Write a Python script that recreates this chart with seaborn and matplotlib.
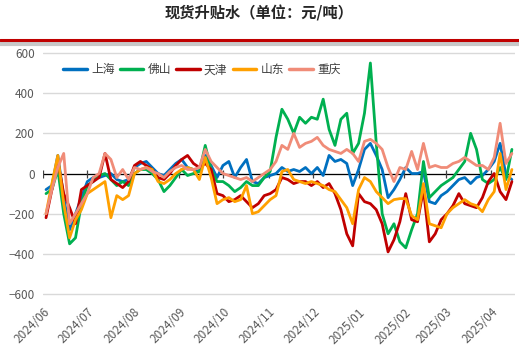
import numpy as np
import pandas as pd
import seaborn as sns
import matplotlib.pyplot as plt
import matplotlib.dates as mdates
from matplotlib.lines import Line2D

# data (one point every 4 days)
dates = pd.date_range('2024-06-03', periods=80, freq='4D')

shanghai = [-80, -60, 90, -120, -280, -200, -120, -40, -20, -20,
            -10, 0, -30, -40, -30, 30, 50, 60, 30, 0,
            -10, 20, 50, 70, 30, 20, 10, 90, 40, -20,
            40, 60, -20, 30, 70, -40, -50, -20, -10, 0,
            30, 10, 20, 10, 30, 0, 30, -10, 90, 60,
            70, 50, -60, 20, 120, 150, 90, 20, -120, -80,
            -30, 30, 0, 0, 10, -140, -150, -110, -90, -60,
            -30, -20, -50, -20, -10, 20, 60, 150, -10, -30]
foshan = [-100, -80, 20, -200, -350, -320, -150, -60, -40, -10,
          0, -30, -60, -40, -60, 0, 20, 20, 0, -30,
          -90, -60, -20, 20, -10, 0, 10, 140, 20, -40,
          -40, -60, -90, -70, -40, -60, -60, -20, 10, 180,
          320, 270, 200, 280, 250, 280, 270, 370, 220, 140,
          270, 300, 100, 150, 300, 550, 150, -200, -300, -250,
          -340, -370, -280, -200, 60, -120, -90, -60, -40, -20,
          20, 60, 200, 120, -30, -50, -30, 30, -30, 120]
tianjin = [-220, -80, 60, -100, -170, -250, -80, -60, -40, -20,
           100, -30, -50, -70, -40, 40, 60, 40, 20, -20,
           -30, 0, 40, 70, 90, 50, 30, 50, 20, -100,
           -110, -140, -130, -110, -140, -170, -150, -110, -100, -80,
           -20, -30, -50, -40, -40, -60, -40, -70, -50, -100,
           -180, -300, -360, -100, -140, -150, -180, -250, -390, -330,
           -240, -100, -230, -240, -80, -340, -300, -230, -200, -160,
           -100, -150, -160, -170, -120, -40, 0, -90, -130, -40]
shandong = [-200, -50, 90, -150, -320, -230, -180, -100, -80, -60,
            -40, -220, -110, -130, -110, 0, 20, 30, 20, -40,
            -50, -30, 0, 20, 30, 20, -30, 80, -20, -150,
            -130, -120, -140, -130, -60, -200, -190, -160, -130, -110,
            10, 20, -30, -40, -50, -40, -50, -60, -80, -90,
            -130, -170, -250, -80, -20, -40, -90, -120, -150, -130,
            -125, -125, -210, -230, -50, -250, -260, -270, -200, -170,
            -150, -130, -150, -160, -190, -130, -90, 100, -80, 20]
chongqing = [-200, -80, 30, 100, -250, -200, -150, -100, -20, 0,
             100, 70, -20, 20, -30, 30, 20, 30, 10, 0,
             -20, 10, 30, 40, 20, 20, 30, 120, 60, 30,
             0, -10, -20, -30, -20, -40, -20, 0, 20, 60,
             140, 120, 200, 130, 150, 160, 180, 140, 120, 110,
             100, 120, 100, 60, 160, 170, 150, 120, 30, -40,
             30, 20, 110, 20, 150, 30, 40, 30, 30, 50,
             60, 80, 60, 40, 40, 20, 80, 250, 50, 100]

regions = ['上海', '佛山', '天津', '山东', '重庆']
colors = ['#0070C0', '#00B050', '#C00000', '#FFA000', '#F08C78']

df = pd.DataFrame({'date': dates, '上海': shanghai, '佛山': foshan,
                   '天津': tianjin, '山东': shandong, '重庆': chongqing})
d = df.melt(id_vars='date', var_name='region', value_name='value')

sns.set_style('white')
plt.rcParams['font.family'] = ['Noto Sans CJK SC', 'DejaVu Sans']
plt.rcParams['axes.unicode_minus'] = True

fig = plt.figure(figsize=(5.19, 3.51), dpi=100)
ax = fig.add_axes([0.083, 0.145, 0.909, 0.727])

sns.lineplot(data=d, x='date', y='value', hue='region', hue_order=regions,
             palette=colors, linewidth=2, ax=ax, legend=False)

# zero line with month ticks on it
ax.axhline(0, color='black', linewidth=0.9, zorder=1)
months = pd.date_range('2024-06-01', '2025-04-01', freq='MS')
ax.vlines(months, -20, 20, color='#404040', linewidth=0.9, zorder=1)

ax.set_ylim(-630, 640)
ax.set_xlim(pd.Timestamp('2024-06-01'), pd.Timestamp('2025-04-17'))
ax.set_yticks([-600, -400, -200, 0, 200, 400, 600])
ax.yaxis.grid(True, color='#D9D9D9', linewidth=1)
ax.set_axisbelow(True)
ax.set_xticks(months)
ax.xaxis.set_major_formatter(mdates.DateFormatter('%Y/%m'))
plt.setp(ax.get_xticklabels(), rotation=45, ha='right', rotation_mode='anchor')
ax.tick_params(axis='both', length=0, labelsize=8.5, labelcolor='#595959')
ax.tick_params(axis='y', pad=6)
ax.tick_params(axis='x', pad=4)
ax.set_xlabel('')
ax.set_ylabel('')
for s in ax.spines.values():
    s.set_visible(False)

handles = [Line2D([], [], color=c, linewidth=2.5) for c in colors]
ax.legend(handles, regions, loc='upper left', bbox_to_anchor=(0.02, 0.97),
          ncol=5, frameon=False, fontsize=8.5, handlelength=2.0,
          handletextpad=0.35, columnspacing=0.45, labelcolor='#404040')

fig.text(0.5, 0.962, '现货升贴水（单位：元/吨）', ha='center', va='center',
         fontsize=11, fontweight='bold')
fig.add_artist(Line2D([0, 1], [0.876, 0.876], color='#C8C8C8', linewidth=3))
fig.add_artist(Line2D([0, 1], [0.886, 0.886], color='#C00000', linewidth=2.2))

plt.savefig('out.png', dpi=100)
